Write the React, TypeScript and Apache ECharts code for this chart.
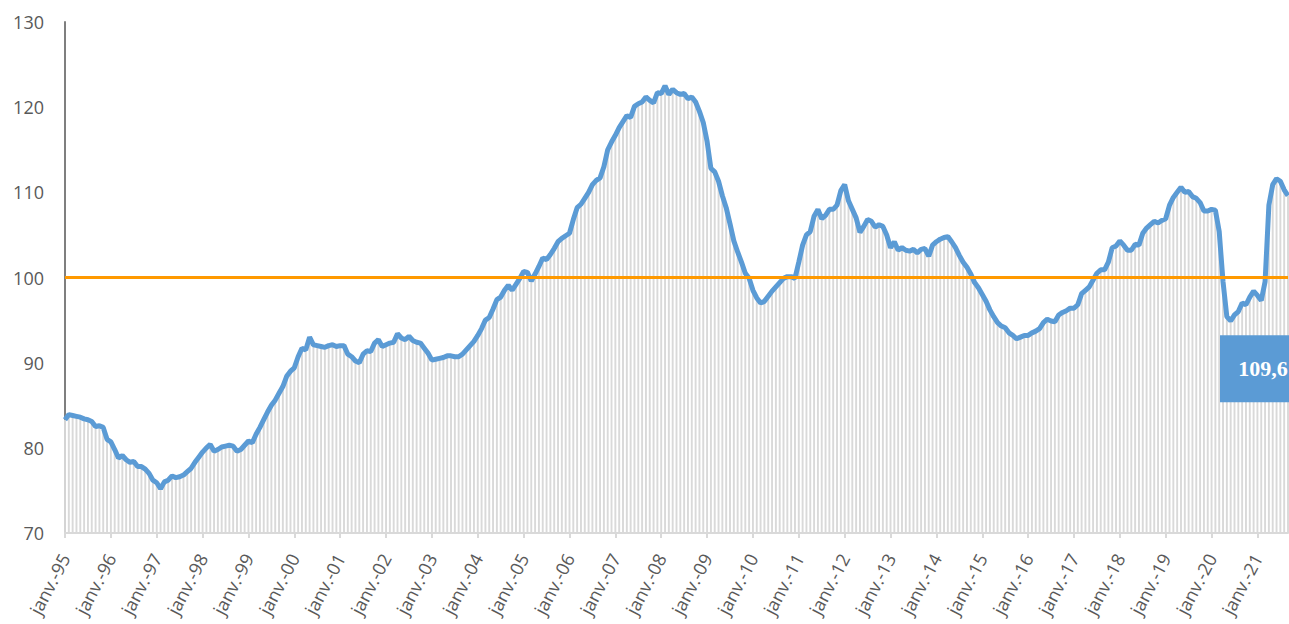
import React, { useEffect, useRef } from "react";
import * as echarts from "echarts";

const monthNames = ["janv.", "févr.", "mars", "avr.", "mai", "juin", "juil.", "août", "sept.", "oct.", "nov.", "déc."];
const years = ["95","96","97","98","99","00","01","02","03","04","05","06","07","08","09","10","11","12","13","14","15","16","17","18","19","20","21"];

const v1995 = [83.3, 83.9, 83.8, 83.7, 83.6, 83.4, 83.3, 83.1, 82.5, 82.6, 82.4, 81.0];
const v1996 = [80.7, 79.8, 78.8, 79.1, 78.6, 78.3, 78.4, 77.8, 77.8, 77.5, 77.0, 76.2];
const v1997 = [75.9, 75.2, 76.0, 76.2, 76.7, 76.5, 76.6, 76.8, 77.2, 77.6, 78.3, 78.9];
const v1998 = [79.5, 80.0, 80.4, 79.6, 79.8, 80.1, 80.2, 80.3, 80.2, 79.6, 79.8, 80.3];
const v1999 = [80.8, 80.6, 81.6, 82.4, 83.3, 84.2, 85.0, 85.6, 86.4, 87.2, 88.4, 89.0];
const v2000 = [89.4, 90.7, 91.7, 91.5, 93.0, 92.1, 92.0, 91.9, 91.8, 92.0, 92.1, 91.9];
const v2001 = [92.0, 92.0, 91.0, 90.7, 90.2, 90.0, 91.0, 91.4, 91.3, 92.3, 92.7, 91.9];
const v2002 = [92.1, 92.3, 92.4, 93.4, 92.9, 92.7, 93.1, 92.6, 92.4, 92.3, 91.7, 91.1];
const v2003 = [90.3, 90.4, 90.5, 90.6, 90.8, 90.8, 90.7, 90.7, 91.0, 91.5, 92.0, 92.5];
const v2004 = [93.2, 94.0, 95.0, 95.3, 96.3, 97.4, 97.7, 98.5, 99.1, 98.5, 99.2, 99.9];
const v2005 = [100.7, 100.6, 99.6, 100.4, 101.3, 102.3, 102.1, 102.7, 103.4, 104.2, 104.6, 104.9];
const v2006 = [105.2, 106.8, 108.2, 108.6, 109.3, 110.0, 110.9, 111.4, 111.7, 113.0, 115.0, 115.9];
const v2007 = [116.7, 117.6, 118.3, 119.0, 118.8, 120.1, 120.4, 120.6, 121.2, 120.8, 120.5, 121.7];
const v2008 = [121.6, 122.5, 121.5, 122.1, 121.7, 121.5, 121.6, 121.0, 121.2, 120.6, 119.5, 118.2];
const v2009 = [116.0, 112.8, 112.4, 111.3, 109.6, 108.2, 106.3, 104.3, 103.0, 101.8, 100.5, 99.9];
const v2010 = [98.5, 97.6, 97.0, 97.2, 97.8, 98.4, 98.9, 99.4, 99.9, 100.1, 100.1, 99.9];
const v2011 = [101.8, 103.8, 105.0, 105.4, 107.2, 108.0, 106.9, 107.3, 108.0, 108.0, 108.5, 110.2];
const v2012 = [110.9, 109.0, 108.0, 107.0, 105.3, 106.0, 106.8, 106.6, 105.9, 106.2, 106.0, 105.0];
const v2013 = [103.5, 104.2, 103.2, 103.5, 103.2, 103.1, 103.3, 102.9, 103.3, 103.4, 102.5, 103.8];
const v2014 = [104.2, 104.5, 104.7, 104.8, 104.2, 103.5, 102.6, 101.8, 101.2, 100.4, 99.4, 98.8];
const v2015 = [98.0, 97.2, 96.2, 95.4, 94.7, 94.3, 94.1, 93.5, 93.2, 92.8, 93.0, 93.2];
const v2016 = [93.2, 93.5, 93.7, 94.0, 94.7, 95.1, 94.9, 94.8, 95.6, 95.9, 96.1, 96.4];
const v2017 = [96.4, 96.8, 98.1, 98.5, 98.9, 99.7, 100.5, 100.9, 100.9, 101.8, 103.5, 103.7];
const v2018 = [104.3, 103.8, 103.2, 103.2, 103.9, 103.8, 105.2, 105.8, 106.2, 106.6, 106.4, 106.7];
const v2019 = [106.9, 108.5, 109.4, 110.0, 110.6, 110.0, 110.1, 109.5, 109.3, 108.8, 107.8, 107.8];
const v2020 = [108.0, 107.9, 105.4, 99.5, 95.4, 94.9, 95.6, 96.0, 97.0, 96.8, 97.7, 98.4];
const v2021 = [97.9, 97.3, 99.5, 108.5, 110.9, 111.6, 111.3, 110.3, 109.6];

const values = [
  ...v1995, ...v1996, ...v1997, ...v1998, ...v1999, ...v2000, ...v2001, ...v2002, ...v2003,
  ...v2004, ...v2005, ...v2006, ...v2007, ...v2008, ...v2009, ...v2010, ...v2011, ...v2012,
  ...v2013, ...v2014, ...v2015, ...v2016, ...v2017, ...v2018, ...v2019, ...v2020, ...v2021,
];

const categories: string[] = [];
years.forEach((y) => monthNames.forEach((m) => categories.push(`${m}-${y}`)));
categories.length = values.length;

const referenceLevel = 100;
const lastLabel = "109,6";

export default function App() {
  const ref = useRef<HTMLDivElement>(null);
  useEffect(() => {
    if (!ref.current) return;
    const chart = echarts.init(ref.current, undefined, { renderer: "svg" });
    const lastIndex = values.length - 1;
    chart.setOption({
      animation: false,
      backgroundColor: "#ffffff",
      grid: { left: 65, right: 1, top: 22, bottom: 91, containLabel: false },
      xAxis: {
        type: "category",
        data: categories,
        boundaryGap: false,
        axisLine: { show: true, lineStyle: { color: "#d9d9d9", width: 2 } },
        axisTick: {
          show: true,
          interval: (i: number) => i % 12 === 0,
          length: 5,
          lineStyle: { color: "#d9d9d9", width: 2 },
        },
        axisLabel: {
          interval: (i: number) => i % 12 === 0,
          rotate: 62,
          margin: 22,
          color: "#595959",
          fontSize: 18,
          fontFamily: "Open Sans",
        },
        splitLine: { show: false },
      },
      yAxis: {
        type: "value",
        min: 70,
        max: 130,
        interval: 10,
        axisLine: { show: true, lineStyle: { color: "#7f7f7f", width: 2 } },
        axisTick: { show: false },
        splitLine: { show: false },
        axisLabel: { color: "#595959", fontSize: 18, margin: 21, fontFamily: "Open Sans" },
      },
      series: [
        {
          type: "bar",
          data: values,
          barWidth: "50%",
          itemStyle: { color: "#d9d9d9" },
          silent: true,
          z: 1,
          markLine: {
            silent: true,
            symbol: "none",
            label: { show: false },
            lineStyle: { color: "#ff9900", width: 3, type: "solid" },
            data: [{ yAxis: referenceLevel }],
          },
        },
        {
          type: "line",
          data: values,
          showSymbol: false,
          symbol: "none",
          lineStyle: { color: "#5b9bd5", width: 5 },
          itemStyle: { color: "#5b9bd5" },
          z: 3,
          markPoint: {
            silent: true,
            symbol: "rect",
            symbolSize: [86, 67],
            symbolOffset: [-25, 173],
            itemStyle: { color: "#5b9bd5" },
            label: {
              show: true,
              position: "inside",
              formatter: lastLabel,
              color: "#ffffff",
              fontFamily: "Liberation Serif",
              fontWeight: "bold",
              fontSize: 22,
            },
            data: [{ coord: [lastIndex, values[lastIndex]], value: lastLabel }],
          },
        },
      ],
    });
    return () => chart.dispose();
  }, []);
  return (
    <div
      ref={ref}
      style={{ position: "fixed", left: 0, top: 0, width: 1289, height: 624, background: "#fff" }}
    />
  );
}
